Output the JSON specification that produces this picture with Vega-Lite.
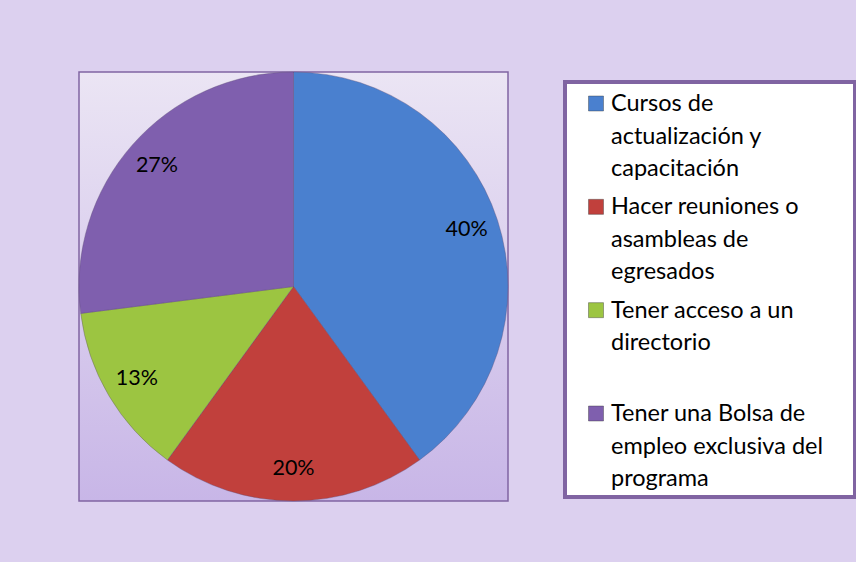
{
  "$schema": "https://vega.github.io/schema/vega-lite/v6.json",
  "background": "#dcd0ef",
  "padding": {"left": 77, "top": 70, "right": 0, "bottom": 62},
  "config": {"font": "Lato"},
  "datasets": {
    "pie": [
      {"cat": "Cursos de actualización y capacitación", "pct": 40, "label": "40%", "order": 1},
      {"cat": "Hacer reuniones o asambleas de egresados", "pct": 20, "label": "20%", "order": 2},
      {"cat": "Tener acceso a un directorio", "pct": 13, "label": "13%", "order": 3},
      {"cat": "Tener una Bolsa de empleo exclusiva del programa", "pct": 27, "label": "27%", "order": 4}
    ],
    "legend": [
      {"cat": "Cursos de actualización y capacitación", "order": 1, "text": "Cursos de\nactualización y\ncapacitación"},
      {"cat": "Hacer reuniones o asambleas de egresados", "order": 2, "text": "Hacer reuniones o\nasambleas  de\negresados"},
      {"cat": "Tener acceso a un directorio", "order": 3, "text": "Tener acceso a un\ndirectorio"},
      {"cat": "Tener una Bolsa de empleo exclusiva del programa", "order": 4, "text": "Tener una Bolsa de\nempleo exclusiva del\nprograma"}
    ]
  },
  "hconcat": [
    {
      "width": 429,
      "height": 429,
      "view": {
        "fill": {"gradient": "linear", "x1": 0, "y1": 0, "x2": 0, "y2": 1,
          "stops": [{"offset": 0, "color": "#ebe5f4"}, {"offset": 1, "color": "#c8b6e7"}]},
        "stroke": "#8064a2",
        "strokeWidth": 1.5
      },
      "data": {"name": "pie"},
      "encoding": {
        "theta": {"field": "pct", "type": "quantitative", "stack": true},
        "order": {"field": "order", "type": "quantitative"}
      },
      "layer": [
        {
          "mark": {"type": "arc", "stroke": "#5a4a70", "strokeWidth": 0.6, "strokeOpacity": 0.6},
          "encoding": {
            "color": {
              "field": "cat", "type": "nominal", "legend": null,
              "scale": {
                "domain": ["Cursos de actualización y capacitación", "Hacer reuniones o asambleas de egresados", "Tener acceso a un directorio", "Tener una Bolsa de empleo exclusiva del programa"],
                "range": ["#4a80cf", "#c1403c", "#9cc541", "#7f5fae"]
              }
            }
          }
        },
        {
          "mark": {"type": "text", "radius": 182, "fontSize": 21.5, "color": "#000000", "align": "center", "baseline": "middle"},
          "encoding": {"text": {"field": "label", "type": "nominal"}}
        }
      ]
    },
    {
      "spacing": 7,
      "vconcat": [
        {
          "width": 290,
          "height": 1,
          "view": {"stroke": null, "fill": null},
          "data": {"values": [{"a": 1}]},
          "mark": {"type": "point", "opacity": 0, "size": 0, "strokeWidth": 0},
          "encoding": {}
        },
        {
          "width": 290,
          "height": 415,
          "view": {"fill": "#ffffff", "stroke": "#8064a2", "strokeWidth": 4},
          "data": {"name": "legend"},
          "encoding": {
            "y": {
              "field": "cat", "type": "nominal", "axis": null,
              "sort": {"field": "order"},
              "scale": {"type": "point", "padding": 0, "range": [10, 320]}
            }
          },
          "layer": [
            {
              "mark": {"type": "point", "shape": "square", "filled": true, "size": 225, "x": 31, "yOffset": 11.5, "opacity": 1, "stroke": "#333333", "strokeWidth": 0.4},
              "encoding": {
                "color": {
                  "field": "cat", "type": "nominal", "legend": null,
                  "scale": {
                    "domain": ["Cursos de actualización y capacitación", "Hacer reuniones o asambleas de egresados", "Tener acceso a un directorio", "Tener una Bolsa de empleo exclusiva del programa"],
                    "range": ["#4a80cf", "#c1403c", "#9cc541", "#7f5fae"]
                  }
                }
              }
            },
            {
              "mark": {"type": "text", "x": 46, "align": "left", "baseline": "top", "fontSize": 23.5, "lineHeight": 32.5, "lineBreak": "\n", "color": "#000000"},
              "encoding": {"text": {"field": "text", "type": "nominal"}}
            }
          ]
        }
      ]
    }
  ],
  "spacing": 53
}
